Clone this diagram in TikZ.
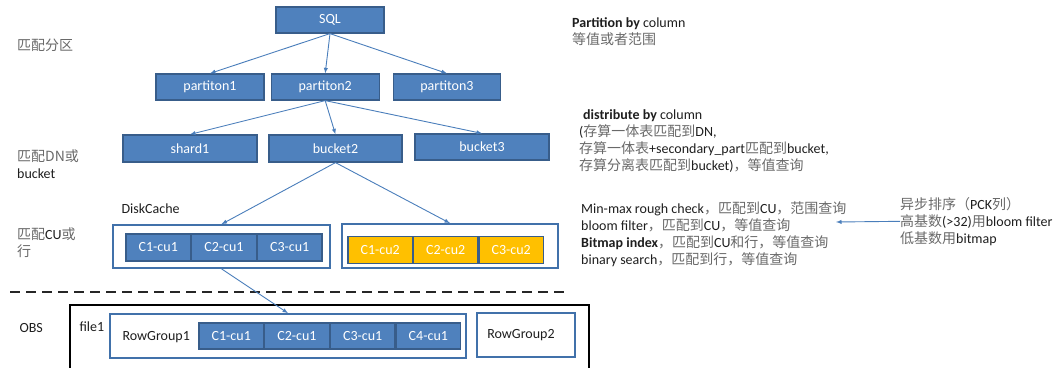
\documentclass[tikz,border=0pt]{standalone}
\usepackage{fontspec}
\setmainfont{Carlito}
\newfontfamily\zhfont{Noto Sans CJK SC}
\usepackage{xcolor}
\usepackage{tikz}
\usetikzlibrary{shapes,arrows,positioning}

\definecolor{boxblue}{RGB}{79,129,189}
\definecolor{boxedge}{RGB}{56,93,138}
\definecolor{frameblue}{RGB}{65,113,170}
\definecolor{lineblue}{RGB}{74,126,187}
\definecolor{cuorange}{RGB}{255,192,0}
\definecolor{zhgray}{RGB}{105,105,105}
\definecolor{txtdark}{RGB}{30,30,30}

\newcommand{\zh}[1]{{\zhfont\color{zhgray}#1}}

\begin{document}
\begin{tikzpicture}[
    x=1pt, y=-1pt,
    font=\fontsize{14}{17}\selectfont,
    blk/.style={rectangle, draw=boxedge, line width=1.2pt, fill=boxblue, text=white, minimum height=26pt, inner sep=0pt},
    cell/.style={blk, minimum width=64.5pt, minimum height=27pt},
    ocell/.style={cell, fill=cuorange, minimum width=64.3pt},
    frame/.style={rectangle, draw=frameblue, line width=1.6pt, inner sep=0pt},
    note/.style={anchor=north west, inner sep=0pt, align=left, text=txtdark},
    arrow/.style={-latex, draw=lineblue, line width=0.9pt}
]
\useasboundingbox (0,0) rectangle (1062,367);

% partition / bucket tree
\node[blk, minimum width=108pt] (sql) at (330,20) {SQL};
\node[blk, minimum width=108pt] (part1) at (210,87) {partiton1};
\node[blk, minimum width=108pt, right=6pt of part1] (part2) {partiton2};
\node[blk, minimum width=107pt, right=13pt of part2] (part3) {partiton3};
\node[blk, minimum width=134pt, minimum height=27pt] (shard1) at (190,148.5) {shard1};
\node[blk, minimum width=133pt, minimum height=27pt] (bucket2) at (335.5,148.5) {bucket2};
\node[blk, minimum width=134pt] (bucket3) at (482,147) {bucket3};

\draw[arrow] (sql.south) -- (part1.north);
\draw[arrow] (sql.south) -- (part2.north);
\draw[arrow] (sql.south) -- (part3.north);
\draw[arrow] (part2.south) -- (shard1.north);
\draw[arrow] (part2.south) -- (bucket2.north);
\draw[arrow] (part2.south) -- (bucket3.north);

% disk cache
\node[anchor=west, text=txtdark] (dclabel) at (118,209) {DiskCache};
\node[frame, minimum width=217pt, minimum height=43pt] (dc) at (221.5,246.5) {};
\node[cell] (dc1) at (158.25,247.5) {C1-cu1};
\node[cell, right=0pt of dc1] (dc2) {C2-cu1};
\node[cell, right=0pt of dc2] (dc3) {C3-cu1};

\node[frame, minimum width=216pt, minimum height=44pt] (oc) at (450,246) {};
\node[ocell] (oc1) at (380.2,250) {C1-cu2};
\node[ocell, right=0pt of oc1] (oc2) {C2-cu2};
\node[ocell, right=0pt of oc2] (oc3) {C3-cu2};

\draw[arrow] (bucket2.south) -- (dc.north);
\draw[arrow] (bucket2.south) -- (oc.north);

% level labels
\node[note] (lvl1) at (17,39) {\zh{匹配分区}};
\node[note] (lvl2) at (17,150) {\zh{匹配DN或}\\ bucket};
\node[note] (lvl3) at (17,228) {\zh{匹配}CU\zh{或}\\ \zh{行}};

% separator
\draw[line width=2.8pt, dash pattern=on 10pt off 6pt, black!85] (10,292) -- (568,292);

% OBS
\node[anchor=west, text=txtdark] (obs) at (16,328) {OBS};
\node[rectangle, draw=black, line width=1.8pt, minimum width=519pt, minimum height=84pt] (file) at (329.5,347) {};
\node[anchor=west, text=txtdark] (filelabel) at (76,327) {file1};
\node[frame, minimum width=356pt, minimum height=44pt] (rg1) at (288,336) {};
\node[anchor=west, text=txtdark] (rg1label) at (119,337) {RowGroup1};
\node[cell, minimum height=26pt] (rc1) at (231.25,336) {C1-cu1};
\node[cell, minimum height=26pt, right=0pt of rc1] (rc2) {C2-cu1};
\node[cell, minimum height=26pt, right=0pt of rc2] (rc3) {C3-cu1};
\node[cell, minimum height=26pt, right=0pt of rc3] (rc4) {C4-cu1};
\node[frame, minimum width=98pt, minimum height=44pt, text=txtdark] (rg2) at (526,335) {\hspace{-10pt}RowGroup2};

\draw[arrow] (dc.south) -- (rg1.north);

% notes on the right
\node[note] (partnote) at (572,17) {\textbf{Partition by} column\\ \zh{等值或者范围}};
\node[note] (distnote) at (579,109) {\hspace{4pt}\textbf{distribute by} column\\
    (\zh{存算一体表匹配到}DN,\\
    \zh{存算一体表}+secondary\_part\zh{匹配到}bucket,\\
    \zh{存算分离表匹配到}bucket)\zh{，等值查询}};
\node[note] (idxnote) at (581,202) {Min-max rough check\zh{，匹配到}CU\zh{，范围查询}\\
    bloom filter\zh{，匹配到}CU\zh{，等值查询}\\
    \textbf{Bitmap index}\zh{，匹配到}CU\zh{和行，等值查询}\\
    binary search\zh{，匹配到行，等值查询}};
\node[note] (pcknote) at (900,197) {\zh{异步排序（}PCK\zh{列）}\\
    \zh{高基数}(>32)\zh{用}bloom filter\\
    \zh{低基数用}bitmap};
\coordinate (idxtip) at (836,222);
\draw[arrow] (pcknote.west) -- (idxtip);
\end{tikzpicture}
\end{document}
